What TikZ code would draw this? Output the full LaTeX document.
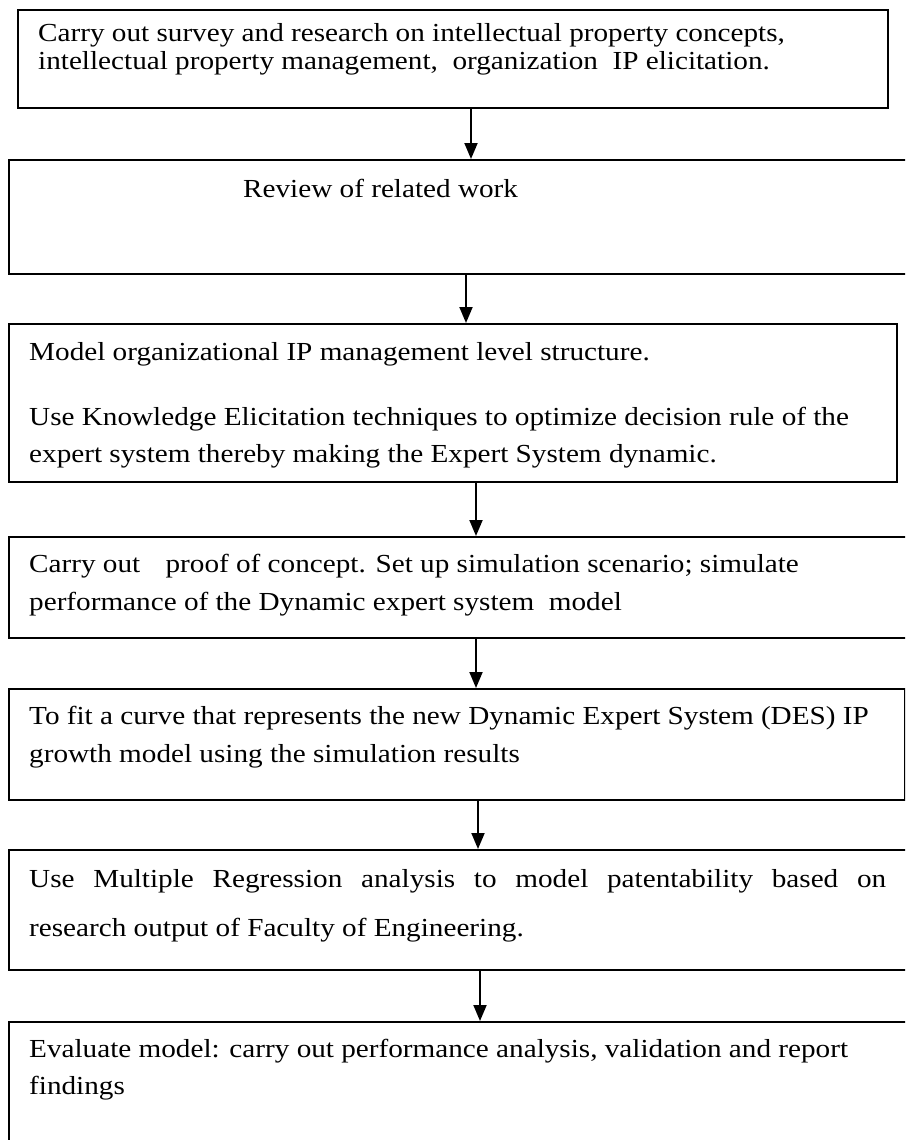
\documentclass[tikz,border=0pt]{standalone}
\usepackage{fontspec}
\setmainfont[FakeStretch=1.123]{Liberation Serif}
\usetikzlibrary{arrows.meta}
\begin{document}
\begin{tikzpicture}[x=1pt,y=-1pt,
  box/.style={draw=black,line width=1.7pt,rectangle,anchor=north west,inner sep=0pt},
  txt/.style={anchor=base west,inner sep=0pt,font=\fontsize{26}{28}\selectfont},
  arr/.style={line width=1.9pt,-{Triangle[width=13pt,length=16pt]}}]
\useasboundingbox (0,0) rectangle (905,1140);
\clip (0,0) rectangle (905,1140);

% process boxes
\node[box,minimum width=870pt,minimum height=98pt]  (b1) at (17,9)    {};
\node[box,minimum width=910pt,minimum height=114pt] (b2) at (8,159)   {};
\node[box,minimum width=888pt,minimum height=158pt] (b3) at (8,323)   {};
\node[box,minimum width=910pt,minimum height=101pt] (b4) at (8,536)   {};
\node[box,minimum width=896pt,minimum height=111pt] (b5) at (8,688)   {};
\node[box,minimum width=910pt,minimum height=120pt] (b6) at (8,849)   {};
\node[box,minimum width=910pt,minimum height=140pt] (b7) at (8,1021)  {};

% box texts
\node[txt] (t1a) at (38,42)  {Carry out survey and research on intellectual property concepts,};
\node[txt] (t1b) at (38,70)  {intellectual property management,\ \ organization\ \ IP elicitation.};
\node[txt] (t2)  at (243,197) {Review of related work};
\node[txt] (t3a) at (29,360) {Model organizational IP management level structure.};
\node[txt] (t3b) at (29,425) {Use Knowledge Elicitation techniques to optimize decision rule of the};
\node[txt] (t3c) at (29,462) {expert system thereby making the Expert System dynamic.};
\node[txt] (t4a) at (29,572) {Carry out\hspace{18pt} proof of concept. Set up simulation scenario; simulate};
\node[txt] (t4b) at (29,610) {performance of the Dynamic expert system\ \ model};
\node[txt] (t5a) at (29,724) {To fit a curve that represents the new Dynamic Expert System (DES) IP};
\node[txt] (t5b) at (29,762) {growth model using the simulation results};
\node[txt] (t6a) at (29,887) {\makebox[857pt][s]{Use Multiple Regression analysis to model patentability based on}};
\node[txt] (t6b) at (29,936) {research output of Faculty of Engineering.};
\node[txt] (t7a) at (29,1057) {Evaluate model: carry out performance analysis, validation and report};
\node[txt] (t7b) at (29,1094) {findings};

% connectors
\draw[arr] (b1.south -| 471,0) -- (b2.north -| 471,0);
\draw[arr] (b2.south -| 466,0) -- (b3.north -| 466,0);
\draw[arr] (b3.south -| 476,0) -- (b4.north -| 476,0);
\draw[arr] (b4.south -| 476,0) -- (b5.north -| 476,0);
\draw[arr] (b5.south -| 478,0) -- (b6.north -| 478,0);
\draw[arr] (b6.south -| 480,0) -- (b7.north -| 480,0);
\end{tikzpicture}
\end{document}
